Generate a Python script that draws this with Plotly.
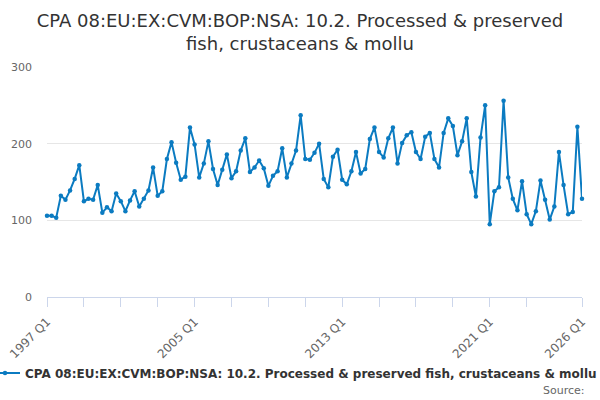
import plotly.graph_objects as go

title_text = "CPA 08:EU:EX:CVM:BOP:NSA: 10.2. Processed & preserved<br>fish, crustaceans & mollu"
series_name = "CPA 08:EU:EX:CVM:BOP:NSA: 10.2. Processed & preserved fish, crustaceans & mollu"

quarters = [f"{y} Q{q}" for y in range(1997, 2027) for q in range(1, 5)][:117]

values = [
    106, 106, 103.5, 132, 127, 139, 154, 172, 125, 128,
    127, 146, 110, 117, 112, 135, 125, 112, 126, 138,
    118, 128, 139, 169, 132, 138, 180, 202, 175, 153,
    157, 221, 199, 156, 174, 203, 167, 146, 166, 186,
    155, 164, 191, 207, 163, 169, 178, 168, 145, 158,
    164, 194, 156, 174, 191, 237, 180, 179, 188, 200,
    154, 143, 183, 192, 153, 147, 164, 189, 161, 167,
    206, 221, 189, 182, 207, 221, 174, 201, 211, 215,
    189, 180, 209, 214, 180, 169, 214, 233, 223, 185,
    203, 233, 163, 131, 208, 250, 95, 138, 143, 256,
    156, 128, 113, 151, 108, 95, 112, 152, 127, 101,
    118, 189, 146, 108, 111, 222, 128,
]

tick_idx = [0, 8, 16, 24, 32, 40, 48, 56, 64, 72, 80, 88, 96, 104, 116]
labelled = {"1997 Q1", "2005 Q1", "2013 Q1", "2021 Q1", "2026 Q1"}
tick_vals = [quarters[i] for i in tick_idx]
tick_text = [q if q in labelled else "" for q in tick_vals]

y_ticks = [0, 100, 200, 300]

color = "#0b7bc1"
font = "DejaVu Sans, Verdana, sans-serif"

fig = go.Figure()
fig.add_trace(go.Scatter(
    x=quarters, y=values, mode="lines+markers", name=series_name,
    line=dict(color=color, width=2),
    marker=dict(color=color, size=4.5),
    cliponaxis=False,
    showlegend=True,
))

fig.update_layout(
    width=600, height=400,
    margin=dict(l=47, r=18, t=67, b=103, autoexpand=False),
    paper_bgcolor="white", plot_bgcolor="white",
    font=dict(family=font, color="#666666", size=11),
    title=dict(text=title_text, x=0.5, xanchor="center", xref="container",
               y=0.933, yanchor="top", yref="container",
               font=dict(family=font, size=18, color="#333333")),
    xaxis=dict(
        type="category", range=[0, 116],
        tickmode="array", tickvals=tick_vals, ticktext=tick_text,
        tickangle=-45, ticks="outside", ticklen=9, tickcolor="#ccd6eb",
        ticklabelstandoff=3,
        showline=True, linecolor="#ccd6eb", linewidth=1,
        showgrid=False, zeroline=False,
        tickfont=dict(size=12, color="#666666"),
    ),
    yaxis=dict(
        range=[0, 300], tickvals=y_ticks,
        showgrid=True, gridcolor="#e6e6e6", gridwidth=1,
        zeroline=False, showline=False,
        ticklabelstandoff=14,
        tickfont=dict(size=11, color="#666666"),
    ),
    legend=dict(
        orientation="h", xref="container", yref="container",
        x=0, xanchor="left", y=0.0675, yanchor="middle",
        indentation=-15, itemwidth=30,
        font=dict(family=font, size=12, color="#333333", weight="bold"),
        bgcolor="rgba(0,0,0,0)",
    ),
    annotations=[dict(
        text="Source:", xref="paper", yref="paper", showarrow=False,
        x=(587 - 47) / 535, xanchor="right", y=(297 - 390) / 230, yanchor="middle",
        font=dict(size=11, color="#666666"),
    )],
)

fig.write_html(
    "out.html",
    config={"displayModeBar": False},
    post_script="document.body.style.margin='0';document.body.style.overflow='hidden';",
)
